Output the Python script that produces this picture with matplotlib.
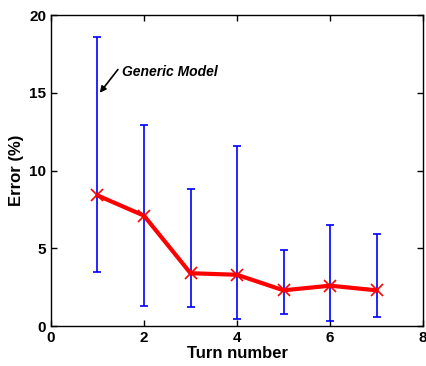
import matplotlib
matplotlib.use("Agg")
import matplotlib.pyplot as plt
import numpy as np

turns = [1, 2, 3, 4, 5, 6, 7]
mean_err = [8.4, 7.1, 3.4, 3.3, 2.3, 2.6, 2.3]
upper = [18.6, 12.9, 8.8, 11.6, 4.9, 6.5, 5.9]
lower = [3.45, 1.3, 1.2, 0.45, 0.75, 0.3, 0.6]

plt.rcParams['font.family'] = ['Liberation Sans', 'DejaVu Sans']

fig = plt.figure(figsize=(4.26, 3.66), dpi=100)
ax = fig.add_axes([0.1197, 0.109, 0.8733, 0.85])

m = np.array(mean_err)
yerr = [m - np.array(lower), np.array(upper) - m]
ax.errorbar(turns, mean_err, yerr=yerr, fmt='none', ecolor='blue', elinewidth=1.2,
            capsize=3, capthick=1.2, zorder=2)
ax.plot(turns, mean_err, color='red', lw=3, marker='x', ms=8, mew=1.2, zorder=3)

ax.annotate('', xy=(1.05, 15.0), xytext=(1.44, 16.5),
            arrowprops=dict(arrowstyle='-|>', color='black', lw=1.2, shrinkA=0, shrinkB=0,
                            mutation_scale=9))
ax.text(1.53, 16.35, 'Generic Model', fontsize=10, fontweight='bold', fontstyle='italic',
        va='center', ha='left')

ax.set_xlim(0, 8)
ax.set_ylim(0, 20)
ax.set_xticks([0, 2, 4, 6, 8])
ax.set_yticks([0, 5, 10, 15, 20])
ax.tick_params(direction='in', top=True, right=True, labelsize=11, length=4, width=1)
for lab in ax.get_xticklabels() + ax.get_yticklabels():
    lab.set_fontweight('bold')
ax.set_xlabel('Turn number', fontsize=12, fontweight='bold', labelpad=1)
ax.set_ylabel('Error (%)', fontsize=12, fontweight='bold', labelpad=4)
for s in ax.spines.values():
    s.set_linewidth(1)

fig.savefig('out.png', dpi=100)
